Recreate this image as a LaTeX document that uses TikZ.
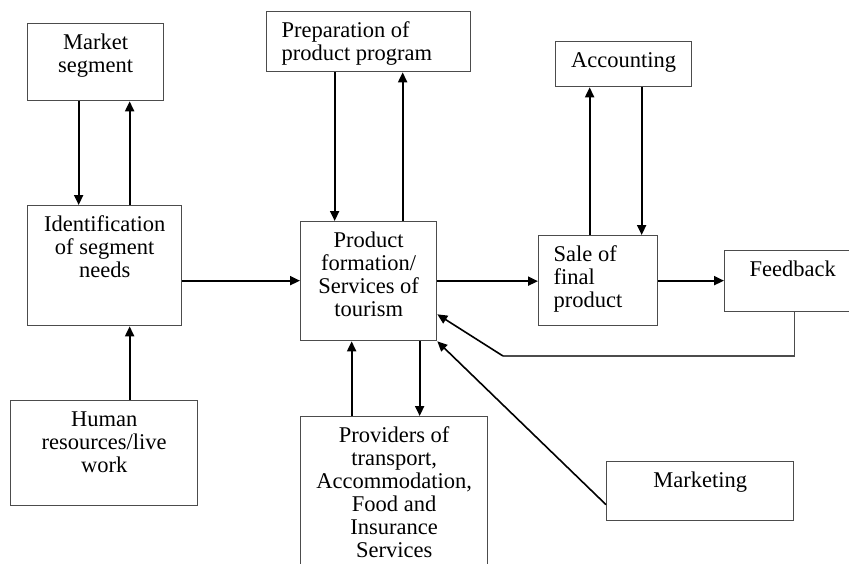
\documentclass[tikz,border=0pt]{standalone}
\usepackage{fontspec}
\setmainfont{Liberation Serif}
\usetikzlibrary{arrows.meta}
\newcommand{\boxtext}[4]{\parbox[t][#2pt][t]{#1pt}{#3\vspace*{10pt}\strut #4}}
\begin{document}
\begin{tikzpicture}[x=1pt, y=-1pt,
    box/.style={draw=black!70, line width=1.3pt, inner sep=0pt, anchor=north west, font=\fontsize{22.5}{23}\selectfont},
    arr/.style={-{Triangle[length=10pt,width=9pt]}, line width=1.9pt},
    thinarr/.style={-{Triangle[length=10pt,width=9pt]}, line width=1.6pt}]
      \path[use as bounding box, clip] (0,0) rectangle (849,563);
      \node[box] (ms) at (27,23) {\boxtext{136}{77}{\centering}{Market\\segment}};
      \node[box] (isn) at (27,205) {\boxtext{154}{120}{\centering}{Identification\\of segment\\needs}};
      \node[box] (hr) at (10,400) {\boxtext{187}{105}{\centering}{Human\\resources/live\\work}};
      \node[box] (pp) at (266,11) {\boxtext{204}{60}{\raggedright\leftskip=15pt\relax}{Preparation of\\product program}};
      \node[box] (pf) at (300,221) {\boxtext{136}{119}{\centering}{Product\\formation/\\Services of\\tourism}};
      \node[box] (prov) at (300,416) {\boxtext{187}{160}{\centering}{Providers of\\transport,\\Accommodation,\\Food and\\Insurance\\Services}};
      \node[box] (acc) at (555,41) {\boxtext{136}{45}{\centering}{Accounting}};
      \node[box] (sfp) at (538,235) {\boxtext{119}{90}{\raggedright\leftskip=15pt\relax}{Sale of\\final\\product}};
      \node[box] (fb) at (724,250) {\boxtext{140}{61}{\raggedright\leftskip=25pt\relax}{Feedback}};
      \node[box] (mk) at (606,461) {\boxtext{187}{59}{\centering}{Marketing}};
      \coordinate (fbk) at (503,356);
      \draw[arr] ([xshift=-17pt]ms.south) -- ([xshift=-17pt]ms.south |- isn.north);
      \draw[arr] ([xshift=34pt]ms.south |- isn.north) -- ([xshift=34pt]ms.south);
      \draw[arr] ([xshift=25.5pt]hr.north) -- ([xshift=25.5pt]hr.north |- isn.south);
      \draw[arr] ([yshift=-15pt]isn.east) -- ([yshift=-15pt]isn.east -| pf.west);
      \draw[arr] ([xshift=-34pt]pp.south) -- ([xshift=-34pt]pf.north);
      \draw[arr] ([xshift=34pt]pf.north) -- ([xshift=34pt]pp.south);
      \draw[arr] (pf.east) -- (pf.east -| sfp.west);
      \draw[arr] ([xshift=-8.5pt]sfp.north) -- ([xshift=-8.5pt]sfp.north |- acc.south);
      \draw[arr] ([xshift=43.5pt]sfp.north |- acc.south) -- ([xshift=43.5pt]sfp.north);
      \draw[arr] (sfp.east) -- (sfp.east -| fb.west);
      \draw[arr] ([xshift=-17pt]pf.south |- prov.north) -- ([xshift=-17pt]pf.south);
      \draw[arr] ([xshift=51pt]pf.south) -- ([xshift=51pt]pf.south |- prov.north);
      \draw[line width=1.3pt, black!70] (fb.south) |- (fbk);
      \draw[thinarr] (fbk) -- ([yshift=27pt]pf.south east);
      \draw[thinarr] ([yshift=-13.5pt]mk.west) -- (pf.south east);
\end{tikzpicture}
\end{document}
